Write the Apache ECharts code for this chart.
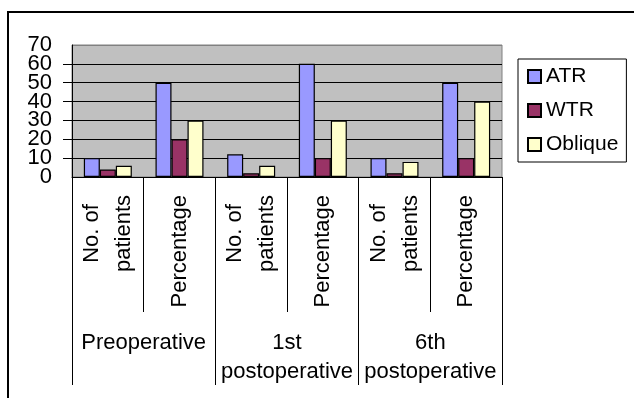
<!DOCTYPE html>
<html><head><meta charset="utf-8">
<script src="https://cdn.jsdelivr.net/npm/echarts@6/dist/echarts.min.js"></script>
<style>html,body{margin:0;padding:0;background:#fff}#c{width:634px;height:398px}</style>
</head><body><div id="c"></div>
<script>
const groups = ['Preoperative', '1st\npostoperative', '6th\npostoperative'];
const measures = ['No. of\npatients', 'Percentage', 'No. of\npatients', 'Percentage', 'No. of\npatients', 'Percentage'];
const seriesNames = ['ATR', 'WTR', 'Oblique'];
const atr = [10, 50, 12, 60, 10, 50];
const wtr = [4, 20, 2, 10, 2, 10];
const oblique = [6, 30, 6, 30, 8, 40];
const yMin = 0, yMax = 70, yInterval = 10;

const FONT = '"Liberation Sans", Arial, sans-serif';
const FS = 22;
const colors = ['#9999FF', '#993366', '#FFFFCC'];
const values = [atr, wtr, oblique];

const yLabelBase = {margin: 20, fontSize: FS, color: '#000', fontFamily: FONT,
  rich: {t: {fontSize: FS, lineHeight: 8, height: 8, fontFamily: FONT, color: '#000'}}};

const chart = echarts.init(document.getElementById('c'), null, {renderer: 'canvas'});
chart.setOption({
  animation: false,
  textStyle: {fontFamily: FONT},
  graphic: [{
    type: 'rect', shape: {x: 8, y: 12, width: 700, height: 500},
    style: {fill: 'none', stroke: '#000', lineWidth: 2}, silent: true, z: 0
  }],
  grid: {left: 72, top: 45, width: 430, height: 132, show: true,
    backgroundColor: '#C0C0C0', borderColor: '#808080', borderWidth: 1},
  legend: {
    orient: 'vertical', left: 518, top: 59,
    itemWidth: 13, itemHeight: 13, itemGap: 13,
    padding: [7, 8, 7, 9],
    borderColor: '#000', borderWidth: 1, backgroundColor: '#fff',
    textStyle: {fontSize: 21, lineHeight: 21, color: '#000', fontFamily: FONT},
    data: seriesNames.map(n => ({name: n, icon: 'rect'}))
  },
  xAxis: [{
    type: 'category', data: measures, position: 'bottom', gridIndex: 0,
    axisLine: {show: true, lineStyle: {color: '#000', width: 1}},
    axisTick: {show: true, length: 135, lineStyle: {color: '#000'}},
    axisLabel: {interval: 0, rotate: 90, margin: 18, fontSize: FS, lineHeight: 32,
      color: '#000', fontFamily: FONT,
      formatter: v => v.split('\n').map(s => '{c|' + s + '}').join('\n'),
      rich: {c: {align: 'center', fontSize: FS, lineHeight: 32, fontFamily: FONT, color: '#000'}}},
    splitLine: {show: false}
  }, {
    type: 'category', data: groups, position: 'bottom', gridIndex: 0,
    axisLine: {show: false},
    axisTick: {show: true, length: 208, lineStyle: {color: '#000'}},
    axisLabel: {interval: 0, margin: 151, fontSize: FS, lineHeight: 29,
      color: '#000', fontFamily: FONT},
    splitLine: {show: false}
  }],
  yAxis: [{
    type: 'value', min: yMin, max: yMax, interval: yInterval, position: 'left',
    axisLine: {show: true, lineStyle: {color: '#000'}},
    axisTick: {show: true, length: 9, lineStyle: {color: '#000'}},
    axisLabel: Object.assign({}, yLabelBase, {
      formatter: v => '{t|' + v + '}', hideOverlap: false}),
    splitLine: {show: true, lineStyle: {color: ['#000','#000','#000','#000','#000','#000','#000','#808080'], width: 1}}
  }, {
    type: 'value', min: yMin, max: yMax, interval: yInterval, position: 'left', offset: 0,
    axisLine: {show: false}, axisTick: {show: false}, splitLine: {show: false},
    axisLabel: Object.assign({}, yLabelBase, {
      formatter: v => (v === yMin || v === yMax) ? '{t|' + v + '}' : '',
      showMinLabel: true, showMaxLabel: true, hideOverlap: false})
  }],
  series: seriesNames.map((n, i) => ({
    name: n, type: 'bar', xAxisIndex: 0, yAxisIndex: 0, data: values[i],
    barWidth: 16, barGap: '0%',
    itemStyle: {color: colors[i], borderColor: '#000', borderWidth: 1.2}
  }))
});
</script></body></html>
